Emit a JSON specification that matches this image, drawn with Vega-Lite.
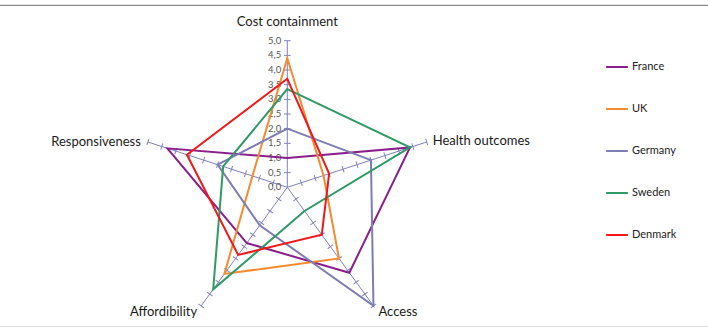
{
  "$schema": "https://vega.github.io/schema/vega-lite/v6.json",
  "width": 712,
  "height": 322,
  "autosize": "none",
  "padding": {"left": -2, "top": 5, "right": 0, "bottom": 0},
  "background": "white",
  "config": {
    "view": {"stroke": "#8c8c8c", "strokeWidth": 1.2},
    "font": "Lato",
    "locale": {"number": {"decimal": ",", "thousands": " ", "grouping": [3], "currency": ["", " €"]}}
  },
  "datasets": {
    "axes": [
      {"axis": "Cost containment", "i": 0, "ticks": [0, 0.5, 1, 1.5, 2, 2.5, 3, 3.5, 4, 4.5, 5]},
      {"axis": "Health outcomes", "i": 1, "ticks": [0, 0.5, 1, 1.5, 2, 2.5, 3, 3.5, 4, 4.5, 5]},
      {"axis": "Access", "i": 2, "ticks": [0, 0.5, 1, 1.5, 2, 2.5, 3, 3.5, 4, 4.5, 5]},
      {"axis": "Affordibility", "i": 3, "ticks": [0, 0.5, 1, 1.5, 2, 2.5, 3, 3.5, 4, 4.5, 5]},
      {"axis": "Responsiveness", "i": 4, "ticks": [0, 0.5, 1, 1.5, 2, 2.5, 3, 3.5, 4, 4.5, 5]}
    ],
    "scores": [
      {"country": "France", "axis": "Cost containment", "i": 0, "value": 1.0},
      {"country": "France", "axis": "Health outcomes", "i": 1, "value": 4.4},
      {"country": "France", "axis": "Access", "i": 2, "value": 3.6},
      {"country": "France", "axis": "Affordibility", "i": 3, "value": 2.35},
      {"country": "France", "axis": "Responsiveness", "i": 4, "value": 4.3},
      {"country": "UK", "axis": "Cost containment", "i": 0, "value": 4.4},
      {"country": "UK", "axis": "Health outcomes", "i": 1, "value": 1.3},
      {"country": "UK", "axis": "Access", "i": 2, "value": 3.0},
      {"country": "UK", "axis": "Affordibility", "i": 3, "value": 3.65},
      {"country": "UK", "axis": "Responsiveness", "i": 4, "value": 1.25},
      {"country": "Germany", "axis": "Cost containment", "i": 0, "value": 2.0},
      {"country": "Germany", "axis": "Health outcomes", "i": 1, "value": 3.0},
      {"country": "Germany", "axis": "Access", "i": 2, "value": 5.0},
      {"country": "Germany", "axis": "Affordibility", "i": 3, "value": 1.6},
      {"country": "Germany", "axis": "Responsiveness", "i": 4, "value": 2.5},
      {"country": "Sweden", "axis": "Cost containment", "i": 0, "value": 3.35},
      {"country": "Sweden", "axis": "Health outcomes", "i": 1, "value": 4.4},
      {"country": "Sweden", "axis": "Access", "i": 2, "value": 1.0},
      {"country": "Sweden", "axis": "Affordibility", "i": 3, "value": 4.3},
      {"country": "Sweden", "axis": "Responsiveness", "i": 4, "value": 2.3},
      {"country": "Denmark", "axis": "Cost containment", "i": 0, "value": 3.7},
      {"country": "Denmark", "axis": "Health outcomes", "i": 1, "value": 1.5},
      {"country": "Denmark", "axis": "Access", "i": 2, "value": 2.0},
      {"country": "Denmark", "axis": "Affordibility", "i": 3, "value": 2.85},
      {"country": "Denmark", "axis": "Responsiveness", "i": 4, "value": 3.6}
    ]
  },
  "layer": [
    {
      "data": {"name": "axes"},
      "transform": [
        {"calculate": "datum.i * 2 * PI / 5", "as": "theta"},
        {"calculate": "0", "as": "ox"},
        {"calculate": "0", "as": "oy"},
        {"calculate": "5 * sin(datum.theta)", "as": "ex"},
        {"calculate": "5 * cos(datum.theta)", "as": "ey"}
      ],
      "mark": {"type": "rule", "color": "#8080c0", "strokeWidth": 1},
      "encoding": {
        "x": {"field": "ox", "type": "quantitative", "scale": {"domain": [-9.867, 14.417], "nice": false, "zero": false}, "axis": null},
        "y": {"field": "oy", "type": "quantitative", "scale": {"domain": [-4.765, 6.218], "nice": false, "zero": false}, "axis": null},
        "x2": {"field": "ex"},
        "y2": {"field": "ey"}
      }
    },
    {
      "data": {"name": "axes"},
      "transform": [
        {"flatten": ["ticks"], "as": ["t"]},
        {"filter": "datum.t > 0"},
        {"calculate": "datum.i * 2 * PI / 5", "as": "theta"},
        {"calculate": "datum.t * sin(datum.theta)", "as": "tx"},
        {"calculate": "datum.t * cos(datum.theta)", "as": "ty"},
        {"calculate": "datum.i * 72", "as": "ang"}
      ],
      "mark": {"type": "point", "shape": "stroke", "size": 45, "filled": false, "color": "#8080c0", "strokeWidth": 1, "opacity": 1},
      "encoding": {
        "x": {"field": "tx", "type": "quantitative", "scale": {"domain": [-9.867, 14.417], "nice": false, "zero": false}, "axis": null},
        "y": {"field": "ty", "type": "quantitative", "scale": {"domain": [-4.765, 6.218], "nice": false, "zero": false}, "axis": null},
        "angle": {"field": "ang", "type": "quantitative", "scale": null}
      }
    },
    {
      "data": {"name": "axes"},
      "transform": [
        {"filter": "datum.i == 0"},
        {"flatten": ["ticks"], "as": ["t"]},
        {"calculate": "0", "as": "ox"}
      ],
      "mark": {"type": "text", "align": "right", "baseline": "middle", "dx": -6, "fontSize": 9.5, "color": "#595959"},
      "encoding": {
        "x": {"field": "ox", "type": "quantitative", "scale": {"domain": [-9.867, 14.417], "nice": false, "zero": false}, "axis": null},
        "y": {"field": "t", "type": "quantitative", "scale": {"domain": [-4.765, 6.218], "nice": false, "zero": false}, "axis": null},
        "text": {"field": "t", "type": "quantitative", "format": ".1f"}
      }
    },
    {
      "data": {"name": "scores"},
      "transform": [
        {"calculate": "datum.i * 2 * PI / 5", "as": "theta"},
        {"calculate": "datum.value * sin(datum.theta)", "as": "px"},
        {"calculate": "datum.value * cos(datum.theta)", "as": "py"}
      ],
      "mark": {"type": "line", "interpolate": "linear-closed"},
      "encoding": {
        "x": {"field": "px", "type": "quantitative", "scale": {"domain": [-9.867, 14.417], "nice": false, "zero": false}, "axis": null},
        "y": {"field": "py", "type": "quantitative", "scale": {"domain": [-4.765, 6.218], "nice": false, "zero": false}, "axis": null},
        "order": {"field": "i", "type": "quantitative"},
        "color": {
          "field": "country",
          "type": "nominal",
          "scale": {
            "domain": ["France", "UK", "Germany", "Sweden", "Denmark"],
            "range": ["#8a1f8c", "#f58a2f", "#7d7db3", "#2e9a66", "#f01818"]
          },
          "legend": {
            "title": null,
            "orient": "none",
            "legendX": 607,
            "legendY": 50,
            "symbolType": "stroke",
            "symbolSize": 470,
            "symbolStrokeWidth": 2.4,
            "labelFont": "Lato",
            "labelFontSize": 11,
            "labelColor": "#222222",
            "labelOffset": 3,
            "rowPadding": 25
          }
        },
        "strokeWidth": {
          "field": "country",
          "type": "nominal",
          "scale": {
            "domain": ["France", "UK", "Germany", "Sweden", "Denmark"],
            "range": [2, 2, 2, 2.8, 3.4]
          },
          "legend": null
        }
      }
    },
    {
      "data": {"name": "axes"},
      "transform": [
        {"filter": "datum.i == 0"},
        {"calculate": "datum.i * 2 * PI / 5", "as": "theta"},
        {"calculate": "5 * sin(datum.theta)", "as": "lx"},
        {"calculate": "5 * cos(datum.theta)", "as": "ly"}
      ],
      "mark": {"type": "text", "align": "center", "baseline": "middle", "dy": -19, "fontSize": 13, "color": "#1a1a1a"},
      "encoding": {
        "x": {"field": "lx", "type": "quantitative", "scale": {"domain": [-9.867, 14.417], "nice": false, "zero": false}, "axis": null},
        "y": {"field": "ly", "type": "quantitative", "scale": {"domain": [-4.765, 6.218], "nice": false, "zero": false}, "axis": null},
        "text": {"field": "axis", "type": "nominal"}
      }
    },
    {
      "data": {"name": "axes"},
      "transform": [
        {"filter": "datum.i == 1"},
        {"calculate": "datum.i * 2 * PI / 5", "as": "theta"},
        {"calculate": "5 * sin(datum.theta)", "as": "lx"},
        {"calculate": "5 * cos(datum.theta)", "as": "ly"}
      ],
      "mark": {"type": "text", "align": "left", "baseline": "middle", "dx": 6, "dy": -1, "fontSize": 13, "color": "#1a1a1a"},
      "encoding": {
        "x": {"field": "lx", "type": "quantitative", "scale": {"domain": [-9.867, 14.417], "nice": false, "zero": false}, "axis": null},
        "y": {"field": "ly", "type": "quantitative", "scale": {"domain": [-4.765, 6.218], "nice": false, "zero": false}, "axis": null},
        "text": {"field": "axis", "type": "nominal"}
      }
    },
    {
      "data": {"name": "axes"},
      "transform": [
        {"filter": "datum.i == 2"},
        {"calculate": "datum.i * 2 * PI / 5", "as": "theta"},
        {"calculate": "5 * sin(datum.theta)", "as": "lx"},
        {"calculate": "5 * cos(datum.theta)", "as": "ly"}
      ],
      "mark": {"type": "text", "align": "left", "baseline": "middle", "dx": 5, "dy": 6, "fontSize": 13, "color": "#1a1a1a"},
      "encoding": {
        "x": {"field": "lx", "type": "quantitative", "scale": {"domain": [-9.867, 14.417], "nice": false, "zero": false}, "axis": null},
        "y": {"field": "ly", "type": "quantitative", "scale": {"domain": [-4.765, 6.218], "nice": false, "zero": false}, "axis": null},
        "text": {"field": "axis", "type": "nominal"}
      }
    },
    {
      "data": {"name": "axes"},
      "transform": [
        {"filter": "datum.i == 3"},
        {"calculate": "datum.i * 2 * PI / 5", "as": "theta"},
        {"calculate": "5 * sin(datum.theta)", "as": "lx"},
        {"calculate": "5 * cos(datum.theta)", "as": "ly"}
      ],
      "mark": {"type": "text", "align": "right", "baseline": "middle", "dx": -4, "dy": 6, "fontSize": 13, "color": "#1a1a1a"},
      "encoding": {
        "x": {"field": "lx", "type": "quantitative", "scale": {"domain": [-9.867, 14.417], "nice": false, "zero": false}, "axis": null},
        "y": {"field": "ly", "type": "quantitative", "scale": {"domain": [-4.765, 6.218], "nice": false, "zero": false}, "axis": null},
        "text": {"field": "axis", "type": "nominal"}
      }
    },
    {
      "data": {"name": "axes"},
      "transform": [
        {"filter": "datum.i == 4"},
        {"calculate": "datum.i * 2 * PI / 5", "as": "theta"},
        {"calculate": "5 * sin(datum.theta)", "as": "lx"},
        {"calculate": "5 * cos(datum.theta)", "as": "ly"}
      ],
      "mark": {"type": "text", "align": "right", "baseline": "middle", "dx": -7, "dy": 0, "fontSize": 13, "color": "#1a1a1a"},
      "encoding": {
        "x": {"field": "lx", "type": "quantitative", "scale": {"domain": [-9.867, 14.417], "nice": false, "zero": false}, "axis": null},
        "y": {"field": "ly", "type": "quantitative", "scale": {"domain": [-4.765, 6.218], "nice": false, "zero": false}, "axis": null},
        "text": {"field": "axis", "type": "nominal"}
      }
    }
  ]
}
